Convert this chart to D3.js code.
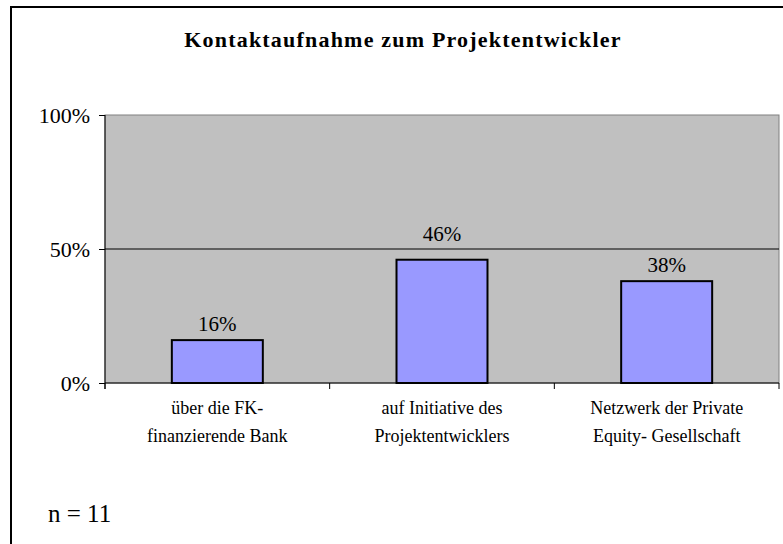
<!DOCTYPE html>
<html>
<head>
<meta charset="UTF-8">
<script src="https://d3js.org/d3.v7.min.js"></script>
</head>
<body style="margin:0">
<script>
// data
const categories = [
  ["über die FK-", "finanzierende Bank"],
  ["auf Initiative des", "Projektentwicklers"],
  ["Netzwerk der Private", "Equity- Gesellschaft"]
];
const values = [0.16, 0.46, 0.38];
const yTicks = [0, 0.5, 1];

const W = 783, H = 544;
const plot = {left: 105, right: 779, top: 115, bottom: 383};
const serif = '"Liberation Serif"';

const svg = d3.select("body").append("svg")
  .attr("width", W).attr("height", H);

// outer frame (runs off the right and bottom edge like the original)
svg.append("rect")
  .attr("x", 11).attr("y", 7).attr("width", 800).attr("height", 600)
  .attr("fill", "#fff").attr("stroke", "#000").attr("stroke-width", 2);

svg.append("text")
  .attr("x", 403).attr("y", 47)
  .attr("text-anchor", "middle")
  .style("font-size", "22px").style("font-weight", "bold")
  .style("letter-spacing", "1.2px")
  .text("Kontaktaufnahme zum Projektentwickler");

const x = d3.scaleBand()
  .domain(d3.range(categories.length))
  .range([plot.left, plot.right])
  .paddingInner(0.595).paddingOuter(0.2975);

const y = d3.scaleLinear().domain([0, 1]).range([plot.bottom, plot.top]);

// plot background
svg.append("rect")
  .attr("x", plot.left).attr("y", plot.top)
  .attr("width", plot.right - plot.left).attr("height", plot.bottom - plot.top)
  .attr("fill", "#c0c0c0").attr("stroke", "#808080").attr("stroke-width", 1);

// gridlines
const grid = yTicks.filter(d => d > 0 && d < 1);
svg.append("g").selectAll("line")
  .data(grid)
  .join("line")
  .attr("x1", plot.left).attr("x2", plot.right)
  .attr("y1", d => y(d)).attr("y2", d => y(d))
  .attr("stroke", "#000").attr("stroke-width", 1);

// bars
svg.append("g").selectAll("rect")
  .data(values)
  .join("rect")
  .attr("x", (d, i) => x(i))
  .attr("y", d => y(d))
  .attr("width", x.bandwidth())
  .attr("height", d => y(0) - y(d))
  .attr("fill", "#9999ff")
  .attr("stroke", "#000").attr("stroke-width", 2);

// value labels, pushed above a gridline when they would cross it
function labelY(d) {
  let base = y(d) - 9;
  grid.forEach(g => {
    const gy = y(g);
    if (gy > base - 15 && gy < base + 2) base = gy - 8;
  });
  return base;
}
svg.append("g").selectAll("text")
  .data(values)
  .join("text")
  .attr("x", (d, i) => x(i) + x.bandwidth() / 2)
  .attr("y", labelY)
  .attr("text-anchor", "middle")
  .style("font-size", "21px")
  .text(d => Math.round(d * 100) + "%");

// y axis
const yAxis = svg.append("g")
  .attr("transform", `translate(${plot.left},0)`)
  .call(d3.axisLeft(y).tickValues(yTicks).tickFormat(d3.format(".0%")).tickSize(6).tickPadding(9));
yAxis.attr("font-family", null).attr("font-size", null);
yAxis.select(".domain").attr("d", `M0,${plot.top}V${plot.bottom + 6}`).attr("stroke", "#000");
yAxis.selectAll(".tick line").attr("stroke", "#000");
yAxis.selectAll("text").style("font-size", "22px").attr("dy", "0.33em");

// x axis line and category ticks
svg.append("line")
  .attr("x1", plot.left).attr("x2", plot.right)
  .attr("y1", plot.bottom).attr("y2", plot.bottom)
  .attr("stroke", "#000");
const step = x.step();
svg.append("g").selectAll("line")
  .data(d3.range(categories.length + 1))
  .join("line")
  .attr("x1", i => plot.left + i * step).attr("x2", i => plot.left + i * step)
  .attr("y1", plot.bottom).attr("y2", plot.bottom + 6)
  .attr("stroke", "#000");

// category labels
const cat = svg.append("g").selectAll("text")
  .data(categories)
  .join("text")
  .attr("text-anchor", "middle")
  .style("font-size", "18px");
cat.selectAll("tspan")
  .data((d, i) => d.map(t => ({t, i})))
  .join("tspan")
  .attr("x", d => x(d.i) + x.bandwidth() / 2)
  .attr("y", (d, j) => 414 + j * 28)
  .text(d => d.t);

svg.append("text")
  .attr("x", 48).attr("y", 522)
  .style("font-size", "25px")
  .text("n = 11");

svg.selectAll("text").style("font-family", serif).attr("fill", "#000");
</script>
</body>
</html>
